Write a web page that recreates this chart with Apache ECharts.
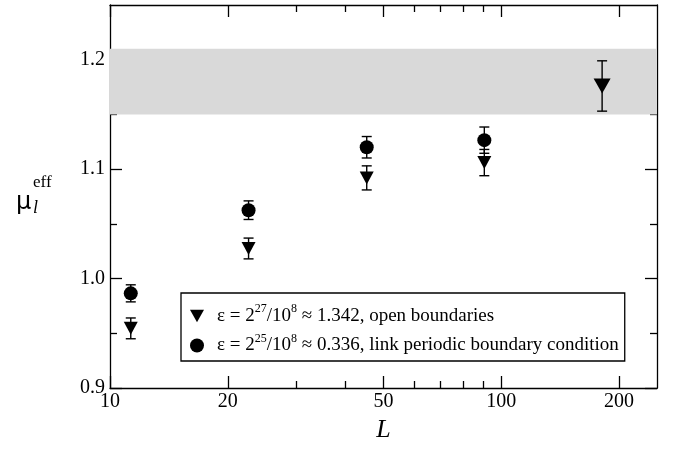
<!DOCTYPE html>
<html>
<head>
<meta charset="utf-8">
<script src="https://cdn.jsdelivr.net/npm/echarts@6/dist/echarts.min.js"></script>
<style>
  html, body { margin: 0; padding: 0; background: #fff; }
  #chart { width: 675px; height: 449px; }
</style>
</head>
<body>
<div id="chart"></div>
<script>
// lattice sizes and effective mass estimates
const openL = [11.3, 22.6, 45.3, 90.5, 181]
const openMu = [0.9545, 1.0275, 1.092, 1.106, 1.176]
const openErr = [0.0095, 0.0095, 0.011, 0.012, 0.023]

const linkL = [11.3, 22.6, 45.3, 90.5]
const linkMu = [0.9865, 1.0625, 1.12, 1.1265]
const linkErr = [0.0078, 0.0085, 0.0098, 0.012]

const band = [1.15, 1.21]

const xTicks = [10, 20, 50, 100, 200]
const xMinorTicks = [30, 40, 60, 70, 80, 90]
const yTicks = [0.9, 1.0, 1.1, 1.2]
const yMinorTicks = [0.95, 1.05, 1.15]

const openName = 'ε = 2^27/10^8 ≈ 1.342, open boundaries'
const linkName = 'ε = 2^25/10^8 ≈ 0.336, link periodic boundary condition'

const serif = '"Liberation Serif", "DejaVu Serif", serif'
const ink = '#000'
const downTriangle = 'path://M0,0 L10,0 L5,9 Z'

const chart = echarts.init(document.getElementById('chart'))

function xAxisDef(position, ticks, length, main) {
  return {
    type: 'log',
    logBase: 10,
    min: 10,
    max: 250,
    position,
    offset: 0,
    axisLine: { show: main, lineStyle: { color: ink, width: 1.3 } },
    axisTick: { show: true, inside: true, length, customValues: ticks, lineStyle: { color: ink, width: 1.3 } },
    axisLabel: main && position === 'bottom'
      ? { show: true, customValues: ticks, margin: 4, color: ink, fontFamily: serif, fontSize: 20 }
      : { show: false },
    splitLine: { show: false },
    minorTick: { show: false },
    name: main && position === 'bottom' ? 'L' : '',
    nameLocation: 'middle',
    nameGap: 29,
    nameTextStyle: { color: ink, fontFamily: serif, fontSize: 26, fontStyle: 'italic' },
  }
}

function yAxisDef(position, ticks, length, main) {
  return {
    type: 'value',
    min: 0.9,
    max: 1.25,
    position,
    offset: 0,
    axisLine: { show: main, lineStyle: { color: ink, width: 1.3 } },
    axisTick: { show: true, inside: true, length, customValues: ticks, lineStyle: { color: ink, width: 1.3 } },
    axisLabel: main && position === 'left'
      ? {
          show: true,
          customValues: ticks,
          margin: 5,
          color: ink,
          fontFamily: serif,
          fontSize: 20,
          formatter: (v) => Number(v).toFixed(1),
        }
      : { show: false },
    splitLine: { show: false },
    minorTick: { show: false },
  }
}

function errorBarItem(params, api) {
  const base = api.coord([api.value(0), api.value(1)])
  const top = api.coord([api.value(0), api.value(2)])
  const half = 5
  const style = { stroke: ink, lineWidth: 1.4 }
  return {
    type: 'group',
    children: [
      { type: 'line', shape: { x1: base[0], y1: base[1], x2: top[0], y2: top[1] }, style },
      { type: 'line', shape: { x1: base[0] - half, y1: base[1], x2: base[0] + half, y2: base[1] }, style },
      { type: 'line', shape: { x1: top[0] - half, y1: top[1], x2: top[0] + half, y2: top[1] }, style },
    ],
  }
}

function richLegend(name) {
  if (name === openName) {
    return '{t|ε = 2}{s|27}{t|/10}{s|8}{t| ≈ 1.342, open boundaries}'
  }
  return '{t|ε = 2}{s|25}{t|/10}{s|8}{t| ≈ 0.336, link periodic boundary condition}'
}

chart.setOption({
  animation: false,
  backgroundColor: '#fff',
  grid: { left: 110, right: 18, top: 5, bottom: 61, containLabel: false },
  xAxis: [
    xAxisDef('bottom', xTicks, 12, true),
    xAxisDef('bottom', xMinorTicks, 7, false),
    xAxisDef('top', xTicks, 12, true),
    xAxisDef('top', xMinorTicks, 7, false),
  ],
  yAxis: [
    yAxisDef('left', yTicks, 12, true),
    yAxisDef('left', yMinorTicks, 7, false),
    yAxisDef('right', yTicks, 12, true),
    yAxisDef('right', yMinorTicks, 7, false),
  ],
  legend: {
    data: [
      { name: openName, icon: downTriangle },
      { name: linkName, icon: 'circle' },
    ],
    orient: 'vertical',
    left: 181,
    top: 293,
    padding: [10, 6, 6, 9],
    itemGap: 7,
    itemWidth: 14,
    itemHeight: 14,
    borderColor: ink,
    borderWidth: 1.3,
    borderRadius: 0,
    selectedMode: false,
    formatter: richLegend,
    textStyle: {
      color: ink,
      rich: {
        t: { fontFamily: serif, fontSize: 19, lineHeight: 26, color: ink },
        s: { fontFamily: serif, fontSize: 12, lineHeight: 10, color: ink, verticalAlign: 'top' },
      },
      padding: [0, 0, 0, 8],
    },
  },
  graphic: [
    { type: 'text', left: 16, top: 191, style: { text: 'μ', font: '24px "DejaVu Sans", sans-serif', fill: ink } },
    { type: 'text', left: 33, top: 174, style: { text: 'eff', font: '17px "Liberation Serif", serif', fill: ink } },
    { type: 'text', left: 33, top: 199, style: { text: 'l', font: 'italic 18px "Liberation Serif", serif', fill: ink } },
  ],
  series: [
    {
      name: 'band',
      type: 'line',
      data: [],
      silent: true,
      markArea: {
        silent: true,
        itemStyle: { color: '#d9d9d9' },
        data: [[{ yAxis: band[0] }, { yAxis: band[1] }]],
      },
    },
    {
      name: openName + ' err',
      type: 'custom',
      renderItem: errorBarItem,
      data: openL.map((L, i) => [L, openMu[i] - openErr[i], openMu[i] + openErr[i]]),
      encode: { x: 0, y: [1, 2] },
      z: 3,
    },
    {
      name: linkName + ' err',
      type: 'custom',
      renderItem: errorBarItem,
      data: linkL.map((L, i) => [L, linkMu[i] - linkErr[i], linkMu[i] + linkErr[i]]),
      encode: { x: 0, y: [1, 2] },
      z: 3,
    },
    {
      name: openName,
      type: 'scatter',
      symbol: downTriangle,
      symbolSize: (value, params) => (params.dataIndex === openL.length - 1 ? [17, 15] : [14, 13]),
      itemStyle: { color: ink, opacity: 1 },
      data: openL.map((L, i) => [L, openMu[i]]),
      z: 4,
    },
    {
      name: linkName,
      type: 'scatter',
      symbol: 'circle',
      symbolSize: 14,
      itemStyle: { color: ink, opacity: 1 },
      data: linkL.map((L, i) => [L, linkMu[i]]),
      z: 4,
    },
  ],
})
</script>
</body>
</html>
